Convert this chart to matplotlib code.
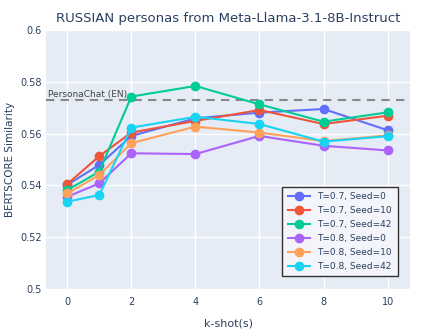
import matplotlib
matplotlib.use("Agg")
import matplotlib.pyplot as plt

k_shots = [0, 1, 2, 4, 6, 8, 10]

series_names = ["T=0.7, Seed=0", "T=0.7, Seed=10", "T=0.7, Seed=42",
                "T=0.8, Seed=0", "T=0.8, Seed=10", "T=0.8, Seed=42"]
t07_seed0 = [0.5402, 0.5479, 0.5591, 0.5659, 0.5681, 0.5695, 0.5613]
t07_seed10 = [0.5405, 0.5513, 0.5604, 0.5649, 0.5691, 0.5637, 0.5669]
t07_seed42 = [0.5382, 0.5453, 0.5743, 0.5784, 0.5713, 0.5646, 0.5682]
t08_seed0 = [0.5356, 0.5408, 0.5524, 0.5521, 0.5591, 0.5553, 0.5535]
t08_seed10 = [0.5369, 0.5440, 0.5563, 0.5627, 0.5604, 0.5571, 0.5593]
t08_seed42 = [0.5337, 0.5363, 0.5623, 0.5665, 0.5637, 0.5569, 0.5590]
baseline = 0.5731

colors = ["#636EFA", "#EF553B", "#00CC96", "#AB63FA", "#FFA15A", "#19D3F3"]
all_series = [t07_seed0, t07_seed10, t07_seed42, t08_seed0, t08_seed10, t08_seed42]

txt = "#2a3f5f"
fig = plt.figure(figsize=(4.39, 3.29), dpi=100)
ax = fig.add_axes([0.105, 0.1216, 0.829, 0.7872])
ax.set_facecolor("#E5ECF6")
for s in ax.spines.values():
    s.set_visible(False)
ax.grid(True, color="white", linewidth=1)
ax.set_axisbelow(True)

ax.axhline(baseline, color="#888888", linestyle=(0, (4, 3)), linewidth=1.5, zorder=1)
ax.text(-0.6, baseline + 0.0004, "PersonaChat (EN)", fontsize=6.5, color="#444444",
        va="bottom", ha="left")

for name, vals, c in zip(series_names, all_series, colors):
    ax.plot(k_shots, vals, color=c, linewidth=1.5, marker="o", markersize=6, label=name, zorder=3)

ax.set_xlim(-0.66, 10.7)
ax.set_ylim(0.5, 0.6)
ax.set_xticks([0, 2, 4, 6, 8, 10])
ax.set_yticks([0.5, 0.52, 0.54, 0.56, 0.58, 0.6])
ax.set_yticklabels(["0.5", "0.52", "0.54", "0.56", "0.58", "0.6"])
ax.tick_params(axis="x", length=0, labelsize=7, labelcolor=txt, pad=6)
ax.tick_params(axis="y", length=0, labelsize=7, labelcolor=txt, pad=3)
ax.set_xlabel("k-shot(s)", fontsize=8, color=txt, labelpad=8)
ax.set_ylabel("BERTSCORE Similarity", fontsize=7.5, color=txt, labelpad=4)
fig.suptitle("RUSSIAN personas from Meta-Llama-3.1-8B-Instruct", fontsize=9.5, color=txt,
             x=0.52, y=0.965)

leg = ax.legend(loc="lower right", bbox_to_anchor=(0.978, 0.031), fontsize=6.5,
                frameon=True, fancybox=False, labelcolor=txt, handlelength=2.5,
                borderpad=0.6, labelspacing=0.55)
leg.get_frame().set_edgecolor("#333333")
leg.get_frame().set_linewidth(1)
leg.get_frame().set_facecolor("#F3F5FA")
leg.get_frame().set_alpha(1)

fig.savefig("out.png", dpi=100)
